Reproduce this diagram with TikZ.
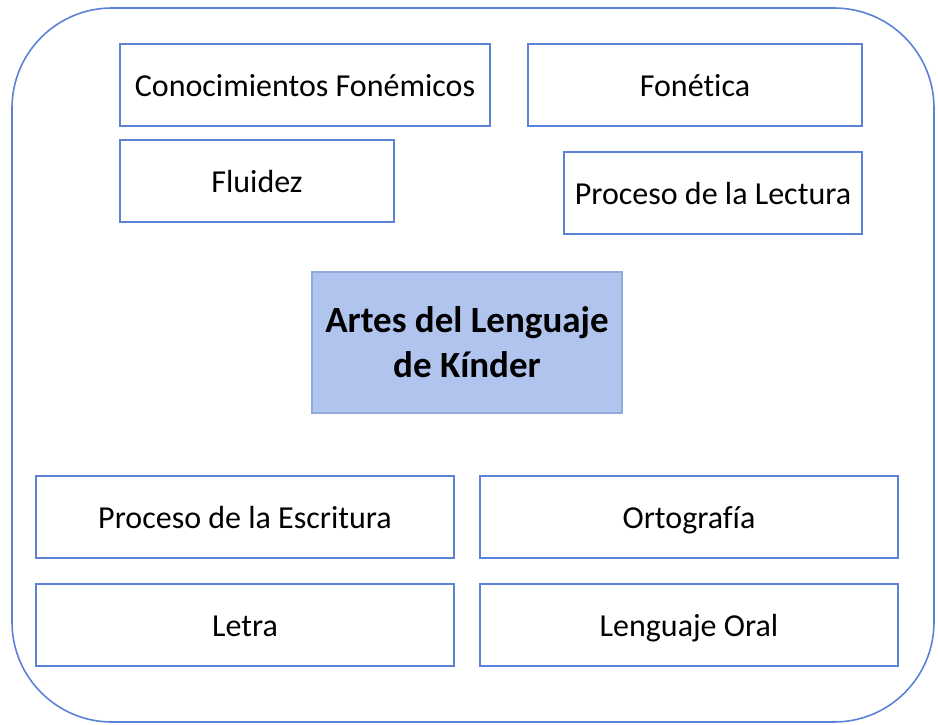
\documentclass[tikz,border=0pt]{standalone}
\usepackage{fontspec}
\setmainfont{Carlito}[RawFeature={-liga}]
\definecolor{outerblue}{HTML}{5B82D6}
\definecolor{boxblue}{HTML}{5B82D6}
\definecolor{centerfill}{HTML}{B0C4EE}
\definecolor{centerline}{HTML}{8FAADC}
\begin{document}
\begin{tikzpicture}[x=1pt,y=-1pt,
  box/.style={draw=boxblue,line width=1.6pt,fill=white,inner sep=0pt,text height=22pt,text depth=0pt,font=\fontsize{32}{38}\selectfont},
  centerbox/.style={draw=centerline,line width=1.6pt,fill=centerfill,inner sep=0pt,font=\bfseries\fontsize{37}{45}\selectfont,align=center}]
\useasboundingbox (0,0) rectangle (938,724);
\draw[draw=outerblue,line width=1.6pt,rounded corners=100pt] (12,8) rectangle (934,722);
\node[box,minimum width=370pt,minimum height=82pt] (cf) at (305,85) {Conocimientos Fonémicos};
\node[box,minimum width=334pt,minimum height=82pt] (fo) at (695,85) {Fonética};
\node[box,minimum width=274pt,minimum height=82pt] (fl) at (257,181) {Fluidez};
\node[box,minimum width=298pt,minimum height=82pt] (pl) at (713,193) {Proceso de la Lectura};
\node[centerbox,minimum width=310pt,minimum height=141pt] (ce) at (467,342.5) {Artes del Lenguaje\\de Kínder};
\node[box,minimum width=418pt,minimum height=82pt] (pe) at (245,517) {Proceso de la Escritura};
\node[box,minimum width=418pt,minimum height=82pt] (or) at (689,517) {Ortografía};
\node[box,minimum width=418pt,minimum height=82pt] (le) at (245,625) {Letra};
\node[box,minimum width=418pt,minimum height=82pt] (lo) at (689,625) {Lenguaje Oral};
\end{tikzpicture}
\end{document}
